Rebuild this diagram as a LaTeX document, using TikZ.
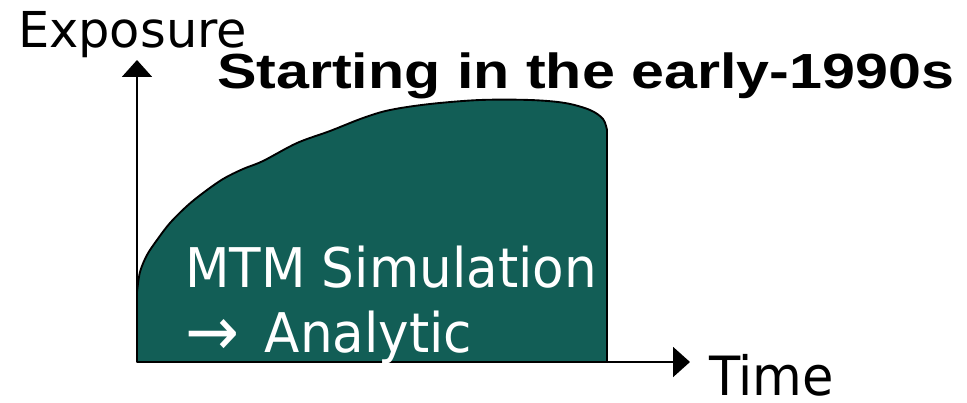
\documentclass[tikz,border=0pt]{standalone}
\usepackage{fontspec}
\setmainfont{DejaVu Sans}
\newfontfamily\titlefont{Liberation Sans}
\usetikzlibrary{arrows.meta}
\definecolor{areafill}{RGB}{18,94,86}
\tikzset{
  axisline/.style={line width=1.5pt,-{Triangle[length=12.75pt,width=22.5pt]}},
  area/.style={fill=areafill,draw=black,line width=1.4pt,line join=round},
  lbl/.style={inner sep=0pt,outer sep=0pt,anchor=base west}
}
\begin{document}
\begin{tikzpicture}[x=0.75pt,y=-0.75pt]
\useasboundingbox (0,0) rectangle (967,403);
% exposure area
\draw[area] (137,362) -- (137,292) -- plot[smooth,tension=0.55] coordinates {
  (137,292) (140,272) (147,255) (157,240) (170,223) (187,206) (203,193)
  (223,179) (243,169) (263,161) (297,143) (330,131) (363,118) (390,110)
  (430,104) (480,100) (530,100) (565,103) (590,110) (603,119) (607,130)}
  -- (607,362) -- cycle;
% axes
\coordinate (O) at (137,362);
\coordinate (ytip) at (137,60);
\coordinate (xtip) at (690,362);
\draw[axisline] (O) -- (ytip);
\draw[axisline] (O) -- (xtip);
% labels
\node[lbl] (exposure) at (18,48) {\fontsize{37.1}{44}\selectfont Exposure};
\node[lbl] (time) at (709,395) {\scalebox{1}[1.06]{\fontsize{38.3}{46}\selectfont Time}};
\node[lbl] (title) at (217,89) {\scalebox{1.2}[1]{\fontsize{37}{44}\selectfont\titlefont\bfseries Starting in the early-1990s}};
\node[lbl,text=white] (mtm) at (185,287) {\scalebox{1}[1.06]{\fontsize{38.7}{46}\selectfont MTM Simulation}};
\node[lbl,text=white] (analytic) at (185,352) {\scalebox{1}[1.06]{\fontsize{38.7}{46}\selectfont \raisebox{-0.06em}{\scalebox{1.25}{→}}\hspace{0.5em}Analytic}};
\end{tikzpicture}
\end{document}
